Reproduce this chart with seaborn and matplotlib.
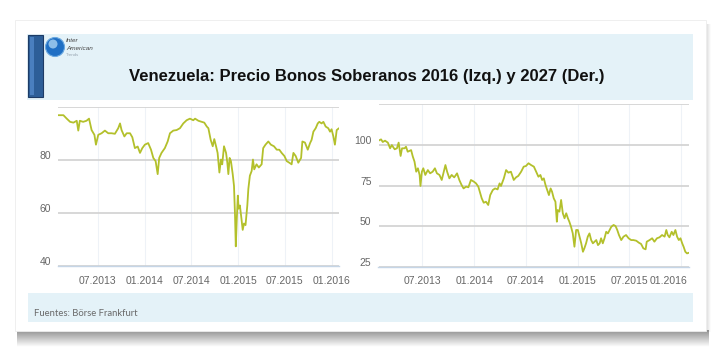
import numpy as np
import pandas as pd
import seaborn as sns
import matplotlib.pyplot as plt
import matplotlib.dates as mdates
from matplotlib.patches import Rectangle, Circle
from matplotlib.transforms import ScaledTranslation

# bond 2016 (left panel)
bond16_dates = [
    '2013-01-28', '2013-02-17', '2013-03-02', '2013-03-15', '2013-03-28', '2013-04-10', '2013-04-16',
    '2013-04-22', '2013-05-05', '2013-05-18', '2013-05-28', '2013-06-07', '2013-06-18', '2013-06-24',
    '2013-07-03', '2013-07-16', '2013-07-29', '2013-08-11', '2013-08-24', '2013-09-06', '2013-09-19',
    '2013-09-26', '2013-10-02', '2013-10-13', '2013-10-22', '2013-11-04', '2013-11-13', '2013-11-23',
    '2013-12-04', '2013-12-13', '2013-12-22', '2014-01-01', '2014-01-14', '2014-01-25', '2014-02-03',
    '2014-02-12', '2014-02-20', '2014-02-26', '2014-03-07', '2014-03-20', '2014-03-31', '2014-04-09',
    '2014-04-22', '2014-05-05', '2014-05-18', '2014-05-31', '2014-06-13', '2014-06-26', '2014-07-09',
    '2014-07-16', '2014-07-29', '2014-08-11', '2014-08-21', '2014-08-31', '2014-09-06', '2014-09-15',
    '2014-09-23', '2014-09-29', '2014-10-06', '2014-10-12', '2014-10-19', '2014-10-25', '2014-10-30',
    '2014-11-06', '2014-11-14', '2014-11-19', '2014-11-23', '2014-11-28', '2014-12-03', '2014-12-10',
    '2014-12-15', '2014-12-19', '2014-12-22', '2014-12-26', '2014-12-30', '2015-01-02', '2015-01-07',
    '2015-01-13', '2015-01-18', '2015-01-23', '2015-01-29', '2015-02-05', '2015-02-09', '2015-02-15',
    '2015-02-22', '2015-02-27', '2015-03-04', '2015-03-13', '2015-03-22', '2015-04-02', '2015-04-08',
    '2015-04-17', '2015-04-28', '2015-05-08', '2015-05-20', '2015-05-31', '2015-06-10', '2015-06-19',
    '2015-06-30', '2015-07-09', '2015-07-19', '2015-07-28', '2015-08-04', '2015-08-13', '2015-08-23',
    '2015-09-03', '2015-09-08', '2015-09-18', '2015-09-29', '2015-10-08', '2015-10-14', '2015-10-21',
    '2015-10-30', '2015-11-07', '2015-11-13', '2015-11-22', '2015-11-29', '2015-12-08', '2015-12-18',
    '2015-12-25', '2015-12-31', '2016-01-07', '2016-01-13', '2016-01-20', '2016-01-29']
bond16_price = [
    96.8, 96.8, 95.5, 94.3, 94.0, 94.7, 91.0,
    94.7, 94.3, 94.7, 95.5, 91.2, 89.4, 85.7,
    89.4, 90.0, 91.0, 90.0, 90.0, 89.8, 91.9,
    93.7, 91.2, 88.8, 90.0, 90.0, 88.5, 84.4,
    85.0, 82.6, 84.4, 85.7, 86.3, 83.8, 80.7,
    79.5, 74.6, 80.7, 82.6, 84.4, 86.9, 90.0,
    91.0, 91.2, 91.9, 93.7, 94.9, 95.5, 94.9,
    95.5, 94.7, 94.3, 94.0, 92.5, 91.9, 87.5,
    85.1, 87.8, 85.1, 82.6, 75.2, 80.1, 78.3,
    85.1, 82.6, 78.9, 74.6, 80.7, 79.5, 74.6,
    70.2, 59.1, 47.4, 57.9, 66.5, 61.6, 62.8,
    57.9, 53.6, 56.0, 55.4, 62.8, 69.0, 74.0,
    75.8, 80.1, 76.4, 78.3, 77.1, 78.3, 84.4,
    85.7, 86.9, 85.7, 85.1, 83.8, 83.8, 82.6,
    81.4, 79.5, 78.9, 78.3, 82.6, 81.4, 78.9,
    80.7, 86.9, 86.5, 83.8, 86.3, 87.5, 90.6,
    91.9, 93.7, 94.3, 93.7, 94.3, 92.5, 91.9,
    90.6, 91.5, 88.8, 85.7, 91.2, 91.9]

# bond 2027 (right panel)
bond27_dates = [
    '2013-01-28', '2013-02-06', '2013-02-12', '2013-02-20', '2013-03-02', '2013-03-10', '2013-03-16',
    '2013-03-26', '2013-04-03', '2013-04-09', '2013-04-16', '2013-04-21', '2013-04-30', '2013-05-05',
    '2013-05-11', '2013-05-23', '2013-05-29', '2013-06-04', '2013-06-10', '2013-06-16', '2013-06-22',
    '2013-06-25', '2013-06-30', '2013-07-05', '2013-07-12', '2013-07-21', '2013-07-29', '2013-08-07',
    '2013-08-15', '2013-08-22', '2013-08-31', '2013-09-08', '2013-09-15', '2013-09-21', '2013-09-27',
    '2013-10-05', '2013-10-13', '2013-10-22', '2013-11-01', '2013-11-09', '2013-11-17', '2013-11-24',
    '2013-12-03', '2013-12-11', '2013-12-20', '2013-12-30', '2014-01-07', '2014-01-15', '2014-01-22',
    '2014-01-27', '2014-02-03', '2014-02-11', '2014-02-19', '2014-02-26', '2014-03-07', '2014-03-15',
    '2014-03-24', '2014-03-31', '2014-04-05', '2014-04-15', '2014-04-23', '2014-05-01', '2014-05-10',
    '2014-05-20', '2014-05-28', '2014-06-05', '2014-06-15', '2014-06-24', '2014-07-02', '2014-07-11',
    '2014-07-20', '2014-07-30', '2014-08-07', '2014-08-15', '2014-08-22', '2014-08-28', '2014-09-03',
    '2014-09-09', '2014-09-15', '2014-09-21', '2014-09-27', '2014-10-02', '2014-10-08', '2014-10-14',
    '2014-10-19', '2014-10-22', '2014-10-28', '2014-11-03', '2014-11-09', '2014-11-15', '2014-11-21',
    '2014-11-27', '2014-12-02', '2014-12-08', '2014-12-14', '2014-12-20', '2014-12-26', '2015-01-01',
    '2015-01-07', '2015-01-13', '2015-01-19', '2015-01-24', '2015-01-30', '2015-02-05', '2015-02-11',
    '2015-02-17', '2015-02-23', '2015-03-01', '2015-03-07', '2015-03-13', '2015-03-19', '2015-03-24',
    '2015-03-30', '2015-04-05', '2015-04-11', '2015-04-17', '2015-04-23', '2015-04-29', '2015-05-07',
    '2015-05-14', '2015-05-20', '2015-05-26', '2015-06-03', '2015-06-11', '2015-06-20', '2015-06-29',
    '2015-07-08', '2015-07-16', '2015-07-26', '2015-08-04', '2015-08-12', '2015-08-20', '2015-08-28',
    '2015-09-01', '2015-09-11', '2015-09-20', '2015-09-28', '2015-10-07', '2015-10-16', '2015-10-25',
    '2015-11-03', '2015-11-09', '2015-11-14', '2015-11-20', '2015-11-28', '2015-12-04', '2015-12-11',
    '2015-12-17', '2015-12-23', '2015-12-29', '2016-01-04', '2016-01-09', '2016-01-15', '2016-01-21',
    '2016-01-28']
bond27_price = [
    102.6, 103.4, 101.8, 102.6, 101.4, 97.9, 99.9,
    97.3, 97.9, 101.4, 93.2, 97.9, 97.9, 98.9,
    95.8, 96.8, 92.8, 89.7, 83.5, 85.6, 81.5,
    74.7, 83.5, 85.6, 81.5, 84.5, 82.5, 83.5,
    85.6, 82.5, 81.5, 78.4, 83.5, 87.6, 83.5,
    79.4, 81.5, 80.0, 82.5, 78.4, 75.3, 73.2,
    74.3, 73.9, 78.4, 77.4, 76.3, 74.3, 70.2,
    67.1, 64.4, 65.0, 63.0, 69.1, 72.2, 73.2,
    72.6, 76.3, 74.7, 79.4, 84.5, 82.9, 83.5,
    78.4, 80.0, 80.9, 83.5, 86.6, 87.0, 88.7,
    87.6, 86.6, 83.5, 80.4, 81.5, 78.4, 79.4,
    75.3, 72.2, 69.1, 73.2, 71.2, 67.1, 65.0,
    52.7, 59.9, 58.9, 66.1, 57.9, 54.8, 57.9,
    54.8, 52.7, 49.6, 45.6, 37.3, 47.6, 47.6,
    43.5, 39.4, 34.2, 36.3, 39.4, 43.5, 45.5,
    41.4, 39.4, 40.4, 41.4, 38.3, 39.4, 42.5,
    39.4, 42.5, 46.5, 45.5, 47.6, 49.6, 50.7,
    50.0, 47.6, 44.5, 41.4, 43.5, 44.5, 42.5,
    41.4, 41.4, 41.0, 39.8, 39.0, 36.3, 35.7,
    40.4, 41.4, 42.5, 40.4, 42.5, 43.1, 44.5,
    43.5, 47.6, 44.5, 43.1, 46.5, 44.5, 47.6,
    43.5, 41.4, 42.5, 39.4, 37.3, 34.2, 33.2,
    33.6]

left_yticks = [40, 60, 80, 100]
left_ylabels = ['40', '60', '80', '']
right_yticks = [25, 50, 75, 100, 125]
right_ylabels = ['25', '50', '75', '100', '']

title = 'Venezuela: Precio Bonos Soberanos 2016 (Izq.) y 2027 (Der.)'
source = 'Fuentes: Börse Frankfurt'

line_color = '#b3c02b'
band_color = '#e4f2f8'
tick_font = ['Liberation Sans Narrow', 'Liberation Sans', 'DejaVu Sans']

sns.set_style('white')
plt.rcParams['font.family'] = ['Liberation Sans', 'DejaVu Sans']

fig = plt.figure(figsize=(7.28, 3.63), dpi=100)

# background card in pixel coordinates
bg = fig.add_axes([0, 0, 1, 1], zorder=0)
bg.set_xlim(0, 728)
bg.set_ylim(363, 0)
bg.axis('off')

# shadow under and right of the card
grad = np.linspace(0.75, 0.0, 40).reshape(-1, 1)
shade = np.zeros((40, 1, 4))
shade[..., :3] = 0.42
shade[..., 3] = grad
bg.imshow(shade, extent=(17, 709, 347, 330), aspect='auto', interpolation='bilinear', zorder=1)
gradr = np.linspace(0.35, 0.0, 20).reshape(1, -1)
shader = np.zeros((1, 20, 4))
shader[..., :3] = 0.5
shader[..., 3] = gradr
bg.imshow(shader, extent=(705, 711, 332, 24), aspect='auto', interpolation='bilinear', zorder=1)
bg.add_patch(Rectangle((15, 20), 691, 311, facecolor='white', edgecolor='#ededed', lw=0.6, zorder=2))

# header and footer bands
bg.add_patch(Rectangle((27, 34), 666, 66, facecolor=band_color, edgecolor='none', zorder=3))
bg.add_patch(Rectangle((28, 293), 665, 29, facecolor=band_color, edgecolor='none', zorder=3))
bg.add_patch(Rectangle((28, 35), 15, 62, facecolor='#2d5e98', edgecolor='#1d3b66', lw=0.8, zorder=4))
bg.add_patch(Rectangle((30, 37), 4, 58, facecolor='#4a7fbf', edgecolor='none', zorder=5))

# logo
bg.add_patch(Circle((55, 47), 9.5, facecolor='#1f6fc4', edgecolor='#6aa8e0', lw=0.8, zorder=5))
bg.add_patch(Circle((53, 44), 4.5, facecolor='#a9d3f2', edgecolor='none', alpha=0.8, zorder=6))
bg.text(66, 41, 'Inter', fontsize=4.6, style='italic', color='#444444', zorder=6, va='center')
bg.text(66, 48, 'American', fontsize=4.6, style='italic', color='#444444', zorder=6, va='center')
bg.text(66, 55, 'Trends', fontsize=3.2, color='#9aa7b3', zorder=6, va='center')

bg.text(367, 77, title, fontsize=12, fontweight='bold', color='#111111',
        ha='center', va='center', zorder=6)
bg.text(34, 313, source, fontsize=6.8, color='#6a6a6a', ha='left', va='center',
        family=['Lato', 'DejaVu Sans'], zorder=6)


def style_axis(ax, dates, yticks, ylabels, ylim):
    ax.set_facecolor('none')
    ax.set_xlim(dates.min(), dates.max())
    ax.set_ylim(*ylim)
    ax.set_yticks(yticks)
    ax.set_yticklabels(ylabels)
    ax.xaxis.set_major_locator(mdates.MonthLocator(bymonth=[1, 7]))
    ax.xaxis.set_major_formatter(mdates.DateFormatter('%m.%Y'))
    ax.set_xlabel('')
    ax.set_ylabel('')
    for s in ['top', 'right', 'left']:
        ax.spines[s].set_visible(False)
    ax.spines['bottom'].set_color('#c5d5e6')
    ax.spines['bottom'].set_linewidth(1.0)
    ax.spines['bottom'].set_zorder(3)
    ax.set_axisbelow(True)
    ax.grid(axis='y', color='#d4d4d4', linewidth=1.3)
    ax.grid(axis='x', color='#eef2f7', linewidth=0.8)
    ax.tick_params(axis='x', length=3, width=0.8, color='#c5d5e6', pad=4,
                   labelsize=7.5, labelcolor='#666666')
    ax.tick_params(axis='y', length=0, pad=5, labelsize=7.5, labelcolor='#666666')
    for lab in ax.get_xticklabels() + ax.get_yticklabels():
        lab.set_family(tick_font)
    for lab in ax.get_yticklabels():
        lab.set_transform(lab.get_transform() + ScaledTranslation(0, 3.5 / 72, fig.dpi_scale_trans))


# left chart: bond 2016
d16 = pd.DataFrame({'fecha': pd.to_datetime(bond16_dates), 'precio': bond16_price})
ax1 = fig.add_axes([58.3 / 728, 1 - 266 / 363, 280.7 / 728, 159.3 / 363], zorder=5)
sns.lineplot(data=d16, x='fecha', y='precio', ax=ax1, color=line_color, linewidth=1.3)
style_axis(ax1, d16['fecha'], left_yticks, left_ylabels, (40, 100))

# right chart: bond 2027
d27 = pd.DataFrame({'fecha': pd.to_datetime(bond27_dates), 'precio': bond27_price})
ax2 = fig.add_axes([378.5 / 728, 1 - 266.7 / 363, 310.5 / 728, 162.4 / 363], zorder=5)
sns.lineplot(data=d27, x='fecha', y='precio', ax=ax2, color=line_color, linewidth=1.3)
style_axis(ax2, d27['fecha'], right_yticks, right_ylabels, (25, 125))

# last date label on the right chart sits inside the plot edge
last = ax2.get_xticklabels()[-1]
last.set_horizontalalignment('right')
last.set_transform(last.get_transform() + ScaledTranslation(6 / 100, 0, fig.dpi_scale_trans))

fig.savefig('out.png', dpi=100)
